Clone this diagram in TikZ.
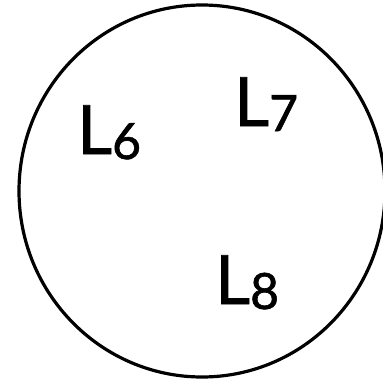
\documentclass[tikz,border=0pt]{standalone}
\usepackage{fontspec}
\setmainfont{Lato}
\newfontfamily\lblfont[FakeBold=1.2]{Lato}
\usepackage{tikz}
\usetikzlibrary{positioning}

\newcommand{\lbl}[1]{{\lblfont\fontsize{68}{68}\selectfont L\raisebox{-5pt}{\fontsize{50}{50}\selectfont #1}}}

\begin{document}
\begin{tikzpicture}[x=1pt, y=-1pt, every node/.style={inner sep=0pt, anchor=base west}]
\useasboundingbox (0,0) rectangle (383,380);
\clip (0,0) rectangle (383,380);
\draw[line width=3.2pt] (202,191) ellipse [x radius=183, y radius=186];
\node (l6) at (77,154) {\lbl{6}};
\node (l7) at (234,126) {\lbl{7}};
\node (l8) at (215,304) {\lbl{8}};
\end{tikzpicture}
\end{document}
